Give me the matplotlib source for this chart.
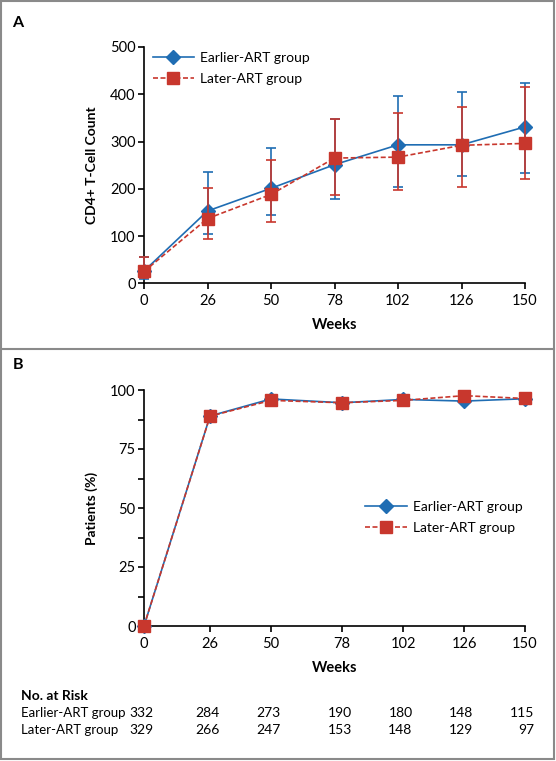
import numpy as np
import matplotlib
matplotlib.use("Agg")
import matplotlib.pyplot as plt
from matplotlib.ticker import MultipleLocator

plt.rcParams['font.family'] = ['Lato', 'DejaVu Sans']

# data
weeks = [0, 26, 50, 78, 102, 126, 150]
groups = ['Earlier-ART group', 'Later-ART group']

# panel A: CD4+ count with bars
cd4_early = [26, 153, 201, 251, 293, 293, 331]
cd4_early_lo = [10, 104, 145, 178, 204, 227, 234]
cd4_early_hi = [55, 236, 286, 348, 396, 404, 423]
cd4_late = [25, 137, 188, 265, 267, 292, 296]
cd4_late_lo = [11, 93, 129, 187, 197, 204, 220]
cd4_late_hi = [56, 202, 261, 348, 360, 372, 415]

# panel B: patients (%)
pct_early = [0, 89.0, 96.2, 94.6, 96.0, 95.3, 96.3]
pct_late = [0, 88.9, 95.6, 94.6, 95.6, 97.6, 96.4]

# no. at risk
risk_early = [332, 284, 273, 190, 180, 148, 115]
risk_late = [329, 266, 247, 153, 148, 129, 97]

blue = '#1f6db3'
red = '#c8372d'
W, H = 556, 761

fig = plt.figure(figsize=(W / 100, H / 100), dpi=100)

def fx(px):
    return px / W

def fy(py):
    return 1 - py / H

x0, x1 = 144, 525
axA = fig.add_axes([fx(x0), fy(283.3), fx(x1 - x0), (283.3 - 47) / H])
axB = fig.add_axes([fx(x0), fy(626), fx(x1 - x0), (626 - 390) / H])

def style(ax):
    for s in ['top', 'right']:
        ax.spines[s].set_visible(False)
    for s in ['left', 'bottom']:
        ax.spines[s].set_linewidth(1.2)
    ax.tick_params(direction='out', length=4.5, width=1.2, labelsize=10.5, pad=1.5)
    ax.tick_params(axis='x', pad=3.5)

mk = dict(lw=1.2, capsize=3.4, elinewidth=1.2, capthick=1.2, clip_on=False)
dash = (0, (3, 1.5))

# --- panel A (weeks spaced evenly)
xi = np.arange(len(weeks))
e_err = [np.array(cd4_early) - np.array(cd4_early_lo), np.array(cd4_early_hi) - np.array(cd4_early)]
l_err = [np.array(cd4_late) - np.array(cd4_late_lo), np.array(cd4_late_hi) - np.array(cd4_late)]
axA.errorbar(xi, cd4_early, yerr=e_err, color=blue, marker='D', ms=7.5,
             zorder=3, label=groups[0], **mk)
axA.errorbar(xi, cd4_late, yerr=l_err, color=red, ls=dash, marker='s', ms=8,
             zorder=4, label=groups[1], **mk)
axA.set_xlim(0, 6)
axA.set_ylim(0, 500)
axA.set_xticks(xi)
axA.set_xticklabels([str(w) for w in weeks])
axA.set_yticks([0, 100, 200, 300, 400, 500])
style(axA)
hA, lA = axA.get_legend_handles_labels()
hA = [h[0] for h in hA]
leg_kw = dict(bbox_transform=fig.transFigure, frameon=False, fontsize=10,
              handlelength=3.0, handletextpad=0.45, labelspacing=0.62,
              borderpad=0, borderaxespad=0, loc='upper left')
axA.legend(hA, lA, bbox_to_anchor=(fx(152.5), fy(52)), **leg_kw)

# --- panel B (linear weeks)
axB.plot(weeks, pct_early, color=blue, lw=1.2, marker='D', ms=7.5, clip_on=False,
         zorder=3, label=groups[0])
axB.plot(weeks, pct_late, color=red, lw=1.2, ls=dash, marker='s', ms=8,
         clip_on=False, zorder=4, label=groups[1])
axB.set_xlim(0, 150)
axB.set_ylim(0, 100)
axB.set_xticks(weeks)
axB.set_yticks([0, 25, 50, 75, 100])
axB.yaxis.set_minor_locator(MultipleLocator(12.5))
style(axB)
axB.tick_params(axis='y', which='minor', direction='out', length=4.5, width=1.2)
axB.legend(bbox_to_anchor=(fx(365), fy(501)), **leg_kw)

# labels
fig.text(fx(91.5), fy(165), 'CD4+ T-Cell Count', rotation=90, ha='center', va='center',
         fontsize=10, fontweight='bold')
fig.text(fx(335), fy(325), 'Weeks', ha='center', va='center', fontsize=10.5, fontweight='bold')
fig.text(fx(91.5), fy(508), 'Patients (%)', rotation=90, ha='center', va='center',
         fontsize=10, fontweight='bold')
fig.text(fx(335), fy(668), 'Weeks', ha='center', va='center', fontsize=10.5, fontweight='bold')
fig.text(fx(17.7), fy(23), 'A', ha='center', va='center', fontsize=11.5, fontweight='bold')
fig.text(fx(17.7), fy(365), 'B', ha='center', va='center', fontsize=11.5, fontweight='bold')

# no. at risk table
fig.text(fx(21), fy(695.5), 'No. at Risk', ha='left', va='center', fontsize=10, fontweight='bold')
for row_y, name, vals in [(713.3, groups[0], risk_early), (730, groups[1], risk_late)]:
    fig.text(fx(21), fy(row_y), name, ha='left', va='center', fontsize=9.5)
    for w, v in zip(weeks, vals):
        xd = axB.transData.transform((w, 0))[0]
        fig.text((xd + 9.5) / W, fy(row_y), str(v), ha='right', va='center', fontsize=10)

# frame and divider
fig.add_artist(plt.Rectangle((fx(1), fy(759)), fx(553), (759 - 1) / H, transform=fig.transFigure,
                             fill=False, ec='#8a8a8a', lw=1.5))
fig.add_artist(plt.Line2D([fx(1), fx(554)], [fy(349), fy(349)], transform=fig.transFigure,
                          color='#8a8a8a', lw=1.5))

fig.savefig('out.png', dpi=100)
